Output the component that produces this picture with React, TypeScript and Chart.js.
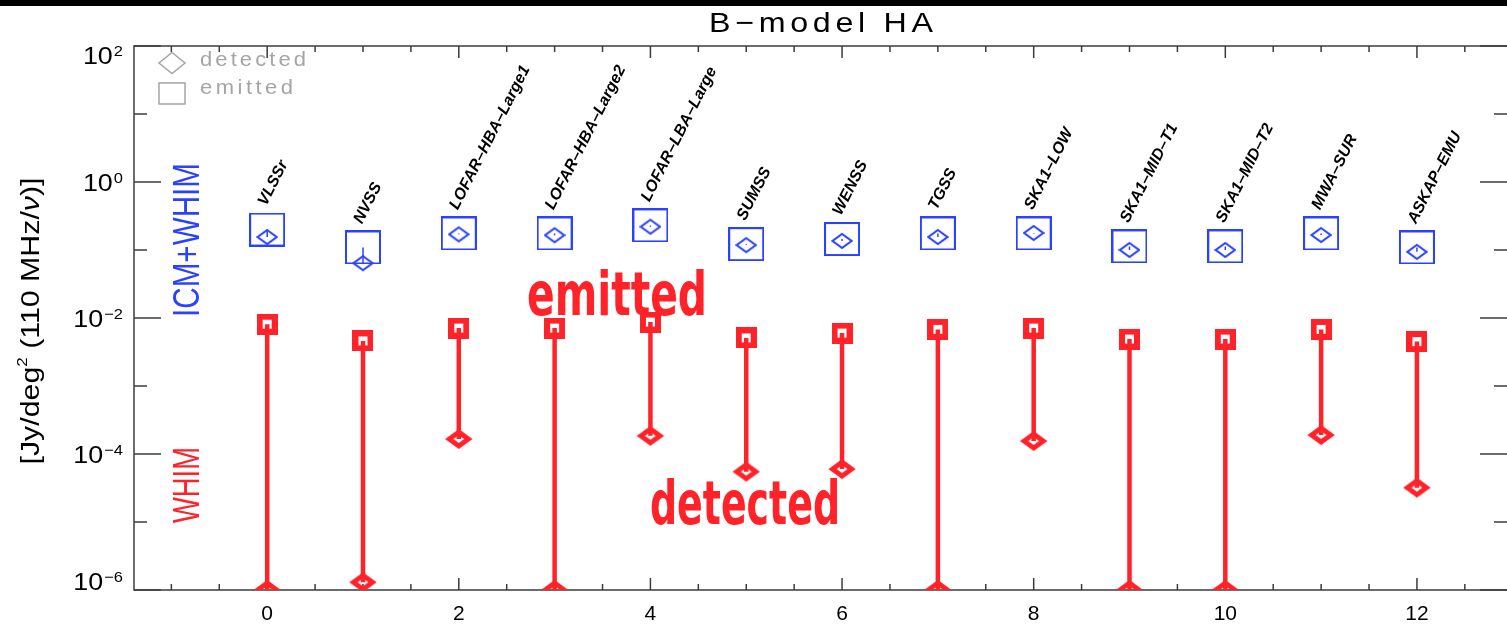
import React, { useEffect, useRef } from 'react';
import { Chart, registerables } from 'chart.js';

Chart.register(...registerables);

// ---------------- data ----------------
const surveys = [
  'VLSSr', 'NVSS', 'LOFAR-HBA-Large1', 'LOFAR-HBA-Large2', 'LOFAR-LBA-Large',
  'SUMSS', 'WENSS', 'TGSS', 'SKA1-LOW', 'SKA1-MID-T1', 'SKA1-MID-T2', 'MWA-SUR', 'ASKAP-EMU',
];
const surveyIndex = [0, 1, 2, 3, 4, 5, 6, 7, 8, 9, 10, 11, 12];
// ICM+WHIM (blue)
const totalEmitted = [0.20, 0.109, 0.175, 0.175, 0.23, 0.122, 0.145, 0.175, 0.175, 0.113, 0.113, 0.175, 0.109];
const totalDetected = [0.155, 0.064, 0.17, 0.165, 0.22, 0.118, 0.136, 0.155, 0.178, 0.10, 0.10, 0.166, 0.094];
// WHIM (red)
const whimEmitted = [0.0081, 0.0046, 0.0071, 0.0071, 0.0087, 0.0051, 0.006, 0.0068, 0.0071, 0.0049, 0.0049, 0.0068, 0.0045];
const whimDetected = [1e-6, 1.3e-6, 1.66e-4, 1e-6, 1.85e-4, 5.5e-5, 6.0e-5, 1e-6, 1.55e-4, 1e-6, 1e-6, 1.9e-4, 3.2e-5];

const xTickValues = [0, 2, 4, 6, 8, 10, 12];
const yTickExponents = [2, 0, -2, -4, -6];
const yDecades = [2, 1, 0, -1, -2, -3, -4, -5, -6];

const titleText = 'B\u2212model HA';
const yTitleParts = ['[Jy/deg', '2', ' (110 MHz/', '\u03bd', ')]'];

// ---------------- styles ----------------
const RED = 'rgb(255,34,40)';
const BLUE = 'rgb(42,66,255)';
const GREY = 'rgb(165,165,165)';
const AXIS = 'rgb(60,60,60)';
const FONT = '"Liberation Sans", Arial, "DejaVu Sans", sans-serif';
const HAND = '"Liberation Sans Narrow", "DejaVu Sans Condensed", "Liberation Sans", sans-serif';

function makeMarker(w: number, h: number, draw: (c: CanvasRenderingContext2D) => void) {
  const c = document.createElement('canvas');
  c.width = w;
  c.height = h;
  const ctx = c.getContext('2d') as CanvasRenderingContext2D;
  draw(ctx);
  return c;
}

function diamondPath(ctx: CanvasRenderingContext2D, cx: number, cy: number, hw: number, hh: number) {
  ctx.beginPath();
  ctx.moveTo(cx, cy - hh);
  ctx.lineTo(cx + hw, cy);
  ctx.lineTo(cx, cy + hh);
  ctx.lineTo(cx - hw, cy);
  ctx.closePath();
}

// draw text stretched horizontally by sx, letter-spaced so that it spans `target` px
function drawWide(ctx: CanvasRenderingContext2D, text: string, x: number, y: number, target: number, sx: number) {
  ctx.save();
  (ctx as any).letterSpacing = '0px';
  const w0 = ctx.measureText(text).width * sx;
  const n = Array.from(text).length;
  const sp = n > 1 ? (target - w0) / (n - 1) : 0;
  ctx.translate(x, y);
  ctx.scale(sx, 1);
  (ctx as any).letterSpacing = sp / sx + 'px';
  ctx.textAlign = 'left';
  ctx.fillText(text, 0, 0);
  ctx.restore();
}

// draw text scaled horizontally to exactly fit `target` px
function drawFit(ctx: CanvasRenderingContext2D, text: string, x: number, y: number, target: number) {
  ctx.save();
  const w0 = ctx.measureText(text).width;
  ctx.translate(x, y);
  ctx.scale(target / w0, 1);
  ctx.textAlign = 'left';
  ctx.fillText(text, 0, 0);
  ctx.restore();
}

const decorPlugin = {
  id: 'decor',
  beforeDraw(chart: any) {
    const { ctx, width, height } = chart;
    ctx.save();
    ctx.fillStyle = '#ffffff';
    ctx.fillRect(0, 0, width, height);
    ctx.fillStyle = '#000000';
    ctx.fillRect(0, 0, width, 6);
    ctx.restore();
  },
  beforeDatasetsDraw(chart: any) {
    const { ctx, chartArea } = chart;
    const { left, right, top, bottom } = chartArea;
    const xs = chart.scales.x;
    const ys = chart.scales.y;
    ctx.save();
    ctx.strokeStyle = AXIS;
    ctx.lineWidth = 1.5;
    // frame (right border falls outside the picture)
    ctx.beginPath();
    ctx.moveTo(right, top);
    ctx.lineTo(left, top);
    ctx.lineTo(left, bottom);
    ctx.lineTo(right, bottom);
    ctx.stroke();
    // x ticks (every 0.5, major every 2)
    const start = Math.ceil(xs.min * 2) / 2;
    ctx.beginPath();
    for (let v = start; v <= xs.max + 1e-9; v += 0.5) {
      const px = xs.getPixelForValue(v);
      const major = Math.abs(v % 2) < 1e-9;
      const len = major ? 12 : 6;
      ctx.moveTo(px, bottom);
      ctx.lineTo(px, bottom - len);
      ctx.moveTo(px, top);
      ctx.lineTo(px, top + len);
    }
    ctx.stroke();
    // y ticks
    ctx.beginPath();
    yDecades.forEach((e) => {
      const py = ys.getPixelForValue(Math.pow(10, e));
      const len = e % 2 === 0 ? 27 : 13;
      ctx.moveTo(left, py);
      ctx.lineTo(left + len, py);
      ctx.moveTo(right, py);
      ctx.lineTo(right - len, py);
    });
    ctx.stroke();

    // y tick labels 10^n
    ctx.fillStyle = '#000';
    ctx.textBaseline = 'alphabetic';
    yTickExponents.forEach((e) => {
      const py = ys.getPixelForValue(Math.pow(10, e));
      const cy = Math.min(Math.max(py, top + 9), bottom - 9);
      const sup = e < 0 ? '\u2212' + String(-e) : String(e);
      ctx.font = `15px ${FONT}`;
      const sw = ctx.measureText(sup).width * 1.1;
      drawWide(ctx, sup, 123 - sw, cy + 1, sw, 1.1);
      ctx.font = `24px ${FONT}`;
      const w10 = ctx.measureText('10').width * 1.12;
      drawWide(ctx, '10', 123 - sw - 1 - w10, cy + 9, w10, 1.12);
    });

    // y axis title (rotated)
    ctx.save();
    ctx.translate(32, 321);
    ctx.rotate(-Math.PI / 2);
    ctx.textBaseline = 'middle';
    const fonts = [
      `25px ${FONT}`, `14px ${FONT}`, `25px ${FONT}`, `italic 25px ${FONT}`, `25px ${FONT}`,
    ];
    let total = 0;
    yTitleParts.forEach((p, i) => {
      ctx.font = fonts[i];
      total += ctx.measureText(p).width;
    });
    const target = 287;
    const sx = target / total;
    ctx.scale(sx, 1);
    let x = -total / 2;
    yTitleParts.forEach((p, i) => {
      ctx.font = fonts[i];
      const dy = i === 1 ? -9 : 0;
      ctx.textAlign = 'left';
      ctx.fillText(p, x, dy);
      x += ctx.measureText(p).width;
    });
    ctx.restore();

    // title
    ctx.fillStyle = '#000';
    ctx.font = `28px ${FONT}`;
    ctx.textBaseline = 'alphabetic';
    drawWide(ctx, titleText, 709, 32, 224, 1.15);

    // legend
    ctx.strokeStyle = GREY;
    ctx.lineWidth = 1.5;
    diamondPath(ctx, 172, 63, 13, 10.5);
    ctx.stroke();
    ctx.strokeRect(159, 83, 26, 21);
    ctx.fillStyle = GREY;
    ctx.font = `20px ${FONT}`;
    ctx.textBaseline = 'middle';
    drawWide(ctx, 'detected', 200, 60, 106, 1.1);
    drawWide(ctx, 'emitted', 200, 88, 93, 1.1);

    // component labels
    ctx.save();
    ctx.font = `36px ${FONT}`;
    ctx.textBaseline = 'middle';
    ctx.translate(189, 240);
    ctx.rotate(-Math.PI / 2);
    ctx.fillStyle = BLUE;
    drawFit(ctx, 'ICM+WHIM', -77, 0, 154);
    ctx.restore();
    ctx.save();
    ctx.font = `36px ${FONT}`;
    ctx.textBaseline = 'middle';
    ctx.translate(189, 485);
    ctx.rotate(-Math.PI / 2);
    ctx.fillStyle = RED;
    drawFit(ctx, 'WHIM', -38, 0, 76);
    ctx.restore();

    ctx.restore();
  },
  afterDatasetsDraw(chart: any) {
    const { ctx } = chart;
    const xs = chart.scales.x;
    const ys = chart.scales.y;
    ctx.save();
    // survey names
    ctx.fillStyle = '#000';
    ctx.font = `bold italic 16px ${FONT}`;
    ctx.textAlign = 'left';
    ctx.textBaseline = 'alphabetic';
    surveys.forEach((name, i) => {
      const px = xs.getPixelForValue(surveyIndex[i]);
      const py = ys.getPixelForValue(totalEmitted[i]);
      ctx.save();
      ctx.translate(px - 1, py - 23);
      ctx.rotate((-63 * Math.PI) / 180);
      ctx.fillText(name.replace(/-/g, '\u2013'), 0, 0);
      ctx.restore();
    });
    // hand-written annotations
    ctx.fillStyle = RED;
    ctx.font = `bold 60px ${HAND}`;
    drawFit(ctx, 'emitted', 527, 315, 180);
    drawFit(ctx, 'detected', 650, 524, 190);
    ctx.restore();
  },
};

export default function App() {
  const ref = useRef<HTMLCanvasElement | null>(null);

  useEffect(() => {
    if (!ref.current) return;

    const blueSquare = makeMarker(36, 34, (c) => {
      c.strokeStyle = BLUE;
      c.lineWidth = 2;
      c.strokeRect(1, 1, 34, 32);
    });
    const blueDiamond = makeMarker(22, 18, (c) => {
      c.strokeStyle = BLUE;
      c.lineWidth = 2;
      diamondPath(c, 11, 9, 9.5, 7);
      c.stroke();
    });
    const redSquare = makeMarker(21, 21, (c) => {
      c.strokeStyle = RED;
      c.lineWidth = 6;
      c.strokeRect(3, 3, 15, 15);
    });
    const redDiamond = makeMarker(32, 26, (c) => {
      c.strokeStyle = RED;
      c.lineWidth = 5;
      diamondPath(c, 16, 13, 9.5, 7);
      c.stroke();
    });

    const whimStem: any[] = [];
    const totalStem: any[] = [];
    surveyIndex.forEach((x, i) => {
      whimStem.push({ x, y: whimEmitted[i] }, { x, y: whimDetected[i] }, { x, y: null });
      totalStem.push({ x, y: totalEmitted[i] }, { x, y: totalDetected[i] }, { x, y: null });
    });
    const pts = (arr: number[]) => surveyIndex.map((x, i) => ({ x, y: arr[i] }));

    const chart = new Chart(ref.current, {
      type: 'scatter',
      data: {
        datasets: [
          {
            label: 'WHIM emitted\u2192detected',
            data: whimStem,
            showLine: true,
            spanGaps: false,
            borderColor: RED,
            borderWidth: 4.5,
            pointRadius: 0,
            order: 0,
            clip: { left: false, top: false, right: false, bottom: 0 } as any,
          },
          {
            label: 'ICM+WHIM emitted\u2192detected',
            data: totalStem,
            showLine: true,
            spanGaps: false,
            borderColor: BLUE,
            borderWidth: 1.5,
            pointRadius: 0,
            order: 0,
          },
          {
            label: 'ICM+WHIM emitted',
            data: pts(totalEmitted),
            pointStyle: blueSquare as any,
            pointRadius: 10,
            order: 1,
          },
          {
            label: 'ICM+WHIM detected',
            data: pts(totalDetected),
            pointStyle: blueDiamond as any,
            pointRadius: 8,
            order: 1,
          },
          {
            label: 'WHIM emitted',
            data: pts(whimEmitted),
            pointStyle: redSquare as any,
            pointRadius: 8,
            order: 1,
          },
          {
            label: 'WHIM detected',
            data: pts(whimDetected),
            pointStyle: redDiamond as any,
            pointRadius: 8,
            order: 1,
            clip: { left: false, top: false, right: false, bottom: 0 } as any,
          },
        ],
      },
      options: {
        animation: false,
        responsive: false,
        devicePixelRatio: 1,
        events: [],
        layout: { autoPadding: false, padding: { top: 46, left: 0, right: 0, bottom: 0 } },
        plugins: {
          legend: { display: false },
          tooltip: { enabled: false },
          title: { display: false },
        },
        scales: {
          x: {
            type: 'linear',
            position: 'bottom',
            min: -1.39,
            max: 12.94,
            grid: { display: false, drawTicks: false },
            border: { display: false },
            ticks: {
              color: '#000',
              font: { family: FONT, size: 21 },
              padding: 12,
              maxRotation: 0,
              autoSkip: false,
            },
            afterBuildTicks: (scale: any) => {
              scale.ticks = xTickValues.map((v) => ({ value: v }));
            },
            afterFit: (scale: any) => {
              scale.height = 40;
              scale.paddingLeft = 0;
              scale.paddingRight = 0;
            },
          },
          y: {
            type: 'logarithmic',
            min: 1e-6,
            max: 1e2,
            grid: { display: false, drawTicks: false },
            border: { display: false },
            ticks: { display: false },
            afterFit: (scale: any) => {
              scale.width = 134;
              scale.paddingTop = 0;
              scale.paddingBottom = 0;
            },
          },
        },
      },
      plugins: [decorPlugin],
    });

    return () => chart.destroy();
  }, []);

  return (
    <div style={{ position: 'absolute', left: 0, top: 0, width: 1507, height: 630, background: '#fff' }}>
      <canvas ref={ref} width={1507} height={630} style={{ display: 'block' }} />
    </div>
  );
}
